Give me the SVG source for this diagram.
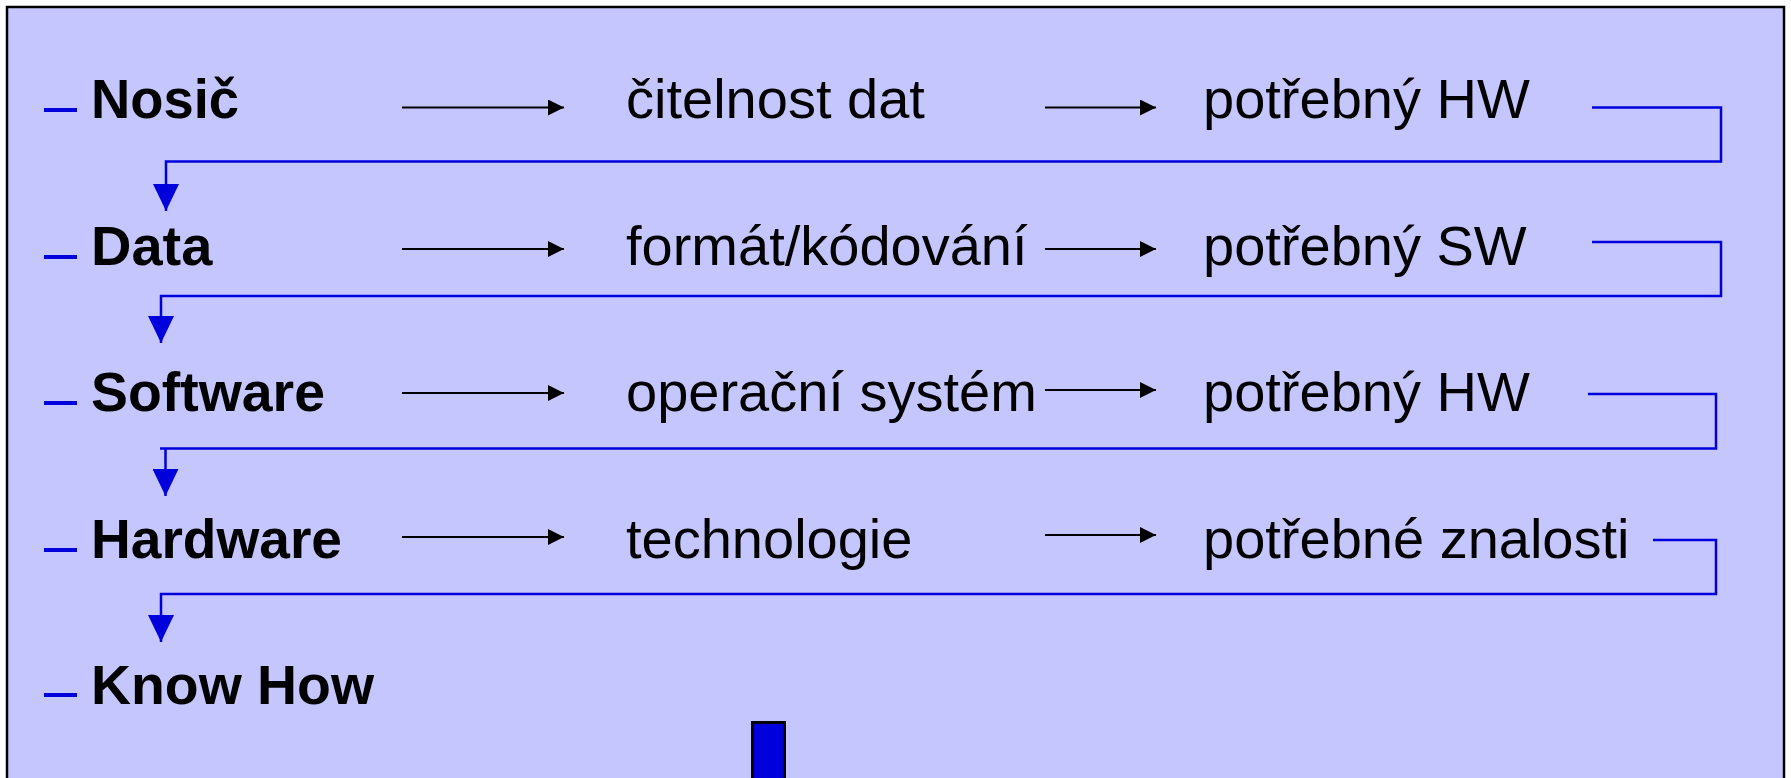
<svg xmlns="http://www.w3.org/2000/svg" width="1791" height="778" viewBox="0 0 1791 778">
  <style>
    .lbl { font-family: "Liberation Sans", Arial, sans-serif; font-size: 56px; font-weight: bold; fill: #000; }
    .txt { font-family: "Liberation Sans", Arial, sans-serif; font-size: 56px; fill: #000; }
    .dash { stroke: #0000DD; stroke-width: 4; }
    .arr { stroke: #000; stroke-width: 2; fill: none; }
    .flow { stroke: #0000DD; stroke-width: 2.5; fill: none; }
  </style>
  <defs>
    <marker id="ah" markerUnits="userSpaceOnUse" markerWidth="16" markerHeight="16" viewBox="0 0 16 16" refX="16" refY="8" orient="auto">
      <path d="M0,0 L16,8 L0,16 z" fill="#000"/>
    </marker>
    <marker id="bh" markerUnits="userSpaceOnUse" markerWidth="27" markerHeight="26" viewBox="0 0 27 26" refX="27" refY="13" orient="auto">
      <path d="M0,0 L27,13 L0,26 z" fill="#0000DD"/>
    </marker>
  </defs>
  <rect x="7" y="7" width="1777" height="800" fill="#C6C6FE" stroke="#000" stroke-width="2.5"/>

  <g id="nosic">
    <line class="dash" x1="44" y1="110" x2="77" y2="110"/>
    <text class="lbl" x="91" y="118" textLength="148" lengthAdjust="spacingAndGlyphs">Nosič</text>
  </g>
  <g id="citelnost"><text class="txt" x="626" y="118">čitelnost dat</text></g>
  <g id="hw1"><text class="txt" x="1203" y="118">potřebný HW</text></g>

  <g id="data">
    <line class="dash" x1="44" y1="257" x2="77" y2="257"/>
    <text class="lbl" x="91" y="265">Data</text>
  </g>
  <g id="format"><text class="txt" x="626" y="265">formát/kódování</text></g>
  <g id="sw"><text class="txt" x="1203" y="265">potřebný SW</text></g>

  <g id="software">
    <line class="dash" x1="44" y1="403" x2="77" y2="403"/>
    <text class="lbl" x="91" y="411" textLength="234" lengthAdjust="spacingAndGlyphs">Software</text>
  </g>
  <g id="os"><text class="txt" x="626" y="411">operační systém</text></g>
  <g id="hw2"><text class="txt" x="1203" y="411">potřebný HW</text></g>

  <g id="hardware">
    <line class="dash" x1="44" y1="550" x2="77" y2="550"/>
    <text class="lbl" x="91" y="558" textLength="251" lengthAdjust="spacingAndGlyphs">Hardware</text>
  </g>
  <g id="tech"><text class="txt" x="626" y="558">technologie</text></g>
  <g id="znalosti"><text class="txt" x="1203" y="558">potřebné znalosti</text></g>

  <g id="knowhow">
    <line class="dash" x1="44" y1="695" x2="77" y2="695"/>
    <text class="lbl" x="91" y="704" textLength="283" lengthAdjust="spacingAndGlyphs">Know How</text>
  </g>

  <g id="bar">
    <rect x="752.5" y="722.5" width="32" height="80" fill="#0000DD" stroke="#000" stroke-width="3"/>
  </g>

  <g id="connectors">
    <line class="arr" x1="402" y1="107.5" x2="564" y2="107.5" marker-end="url(#ah)"/>
    <line class="arr" x1="1045" y1="107.5" x2="1156" y2="107.5" marker-end="url(#ah)"/>
    <line class="arr" x1="402" y1="249" x2="564" y2="249" marker-end="url(#ah)"/>
    <line class="arr" x1="1045" y1="249" x2="1156" y2="249" marker-end="url(#ah)"/>
    <line class="arr" x1="402" y1="393" x2="564" y2="393" marker-end="url(#ah)"/>
    <line class="arr" x1="1045" y1="390" x2="1156" y2="390" marker-end="url(#ah)"/>
    <line class="arr" x1="402" y1="537" x2="564" y2="537" marker-end="url(#ah)"/>
    <line class="arr" x1="1045" y1="535" x2="1156" y2="535" marker-end="url(#ah)"/>

    <path class="flow" d="M1592,107.5 H1721 V161.5 H166 V211" marker-end="url(#bh)"/>
    <path class="flow" d="M1592,242 H1721 V296 H161 V343" marker-end="url(#bh)"/>
    <path class="flow" d="M1588,394 H1716 V448.5 H160 M165.5,448.5 V496" marker-end="url(#bh)"/>
    <path class="flow" d="M1653,540 H1716 V594 H161 V642" marker-end="url(#bh)"/>
  </g>
</svg>
